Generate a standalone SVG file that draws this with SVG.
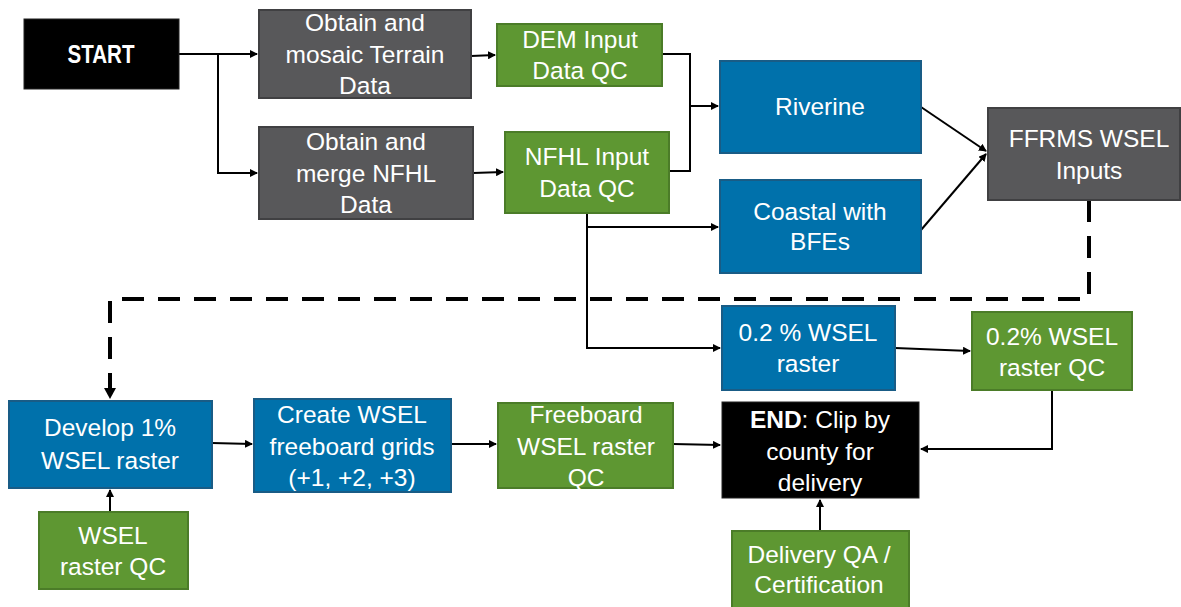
<svg xmlns="http://www.w3.org/2000/svg" width="1181" height="607" viewBox="0 0 1181 607">
<defs>
<marker id="ah" markerWidth="8" markerHeight="8" refX="7" refY="4" orient="auto" markerUnits="userSpaceOnUse">
<path d="M0,0 L8,4 L0,8 z" fill="#000"/>
</marker>
<marker id="ahb" markerWidth="12" markerHeight="12" refX="10" refY="6" orient="auto" markerUnits="userSpaceOnUse">
<path d="M0,0 L11,6 L0,12 z" fill="#000"/>
</marker>
<style>
.gray{fill:#58585a;stroke:#404042;stroke-width:2}
.green{fill:#5e9732;stroke:#4b7c28;stroke-width:2}
.blue{fill:#0071ab;stroke:#195c86;stroke-width:2}
.black{fill:#000;stroke:#222;stroke-width:1}
text{font-family:"Liberation Sans",Arial,sans-serif;font-size:24.5px;fill:#fff;text-anchor:middle}
.c{fill:none;stroke:#000;stroke-width:2}
.d{fill:none;stroke:#000;stroke-width:4;stroke-dasharray:22,14}
</style>
</defs>

<g id="connectors">
<path class="c" d="M179,54 H257" marker-end="url(#ah)"/>
<path class="c" d="M218,54 V173 H257" marker-end="url(#ah)"/>
<path class="c" d="M471,56 L495,55" marker-end="url(#ah)"/>
<path class="c" d="M473,173 L503,172" marker-end="url(#ah)"/>
<path class="c" d="M662,54 H690 V106 H718" marker-end="url(#ah)"/>
<path class="c" d="M669,171 H690 V106"/>
<path class="c" d="M587,213 V348 H720" marker-end="url(#ah)"/>
<path class="c" d="M587,227 H718" marker-end="url(#ah)"/>
<path class="c" d="M921,107 L986,151" marker-end="url(#ah)"/>
<path class="c" d="M921,230 L986,154" marker-end="url(#ah)"/>
<path class="c" d="M895,348 L970,351" marker-end="url(#ah)"/>
<path class="c" d="M1052,390 V449 H921" marker-end="url(#ah)"/>
<path class="c" d="M212,443 L252,444" marker-end="url(#ah)"/>
<path class="c" d="M451,444 L496,444" marker-end="url(#ah)"/>
<path class="c" d="M673,444 L720,445" marker-end="url(#ah)"/>
<path class="c" d="M110,512 V490" marker-end="url(#ah)"/>
<path class="c" d="M820,531 V500" marker-end="url(#ah)"/>
<path class="d" d="M1089,200 V299 H110 V398" marker-end="url(#ahb)"/>
</g>

<g id="start"><rect class="black" x="24" y="19" width="155" height="70"/>
<text x="101" y="63" style="font-weight:bold;font-size:25px" textLength="67" lengthAdjust="spacingAndGlyphs">START</text></g>

<g id="terrain"><rect class="gray" x="259" y="10" width="212" height="88"/>
<text x="365" y="31">Obtain and</text><text x="365" y="63">mosaic Terrain</text><text x="365" y="94">Data</text></g>

<g id="nfhl-merge"><rect class="gray" x="259" y="127" width="214" height="92"/>
<text x="366" y="150">Obtain and</text><text x="366" y="182">merge NFHL</text><text x="366" y="213">Data</text></g>

<g id="dem-qc"><rect class="green" x="497" y="24" width="165" height="62"/>
<text x="580" y="48">DEM Input</text><text x="580" y="79">Data QC</text></g>

<g id="nfhl-qc"><rect class="green" x="505" y="132" width="164" height="81"/>
<text x="587" y="165">NFHL Input</text><text x="587" y="197">Data QC</text></g>

<g id="riverine"><rect class="blue" x="720" y="61" width="201" height="92"/>
<text x="820" y="115">Riverine</text></g>

<g id="coastal"><rect class="blue" x="720" y="180" width="201" height="93"/>
<text x="820" y="220">Coastal with</text><text x="820" y="250">BFEs</text></g>

<g id="ffrms"><rect class="gray" x="988" y="108" width="192" height="92"/>
<text x="1089" y="147">FFRMS WSEL</text><text x="1089" y="179">Inputs</text></g>

<g id="wsel02"><rect class="blue" x="722" y="306" width="173" height="84"/>
<text x="808" y="341">0.2 % WSEL</text><text x="808" y="372">raster</text></g>

<g id="wsel02-qc"><rect class="green" x="972" y="312" width="160" height="78"/>
<text x="1052" y="345">0.2% WSEL</text><text x="1052" y="376">raster QC</text></g>

<g id="develop"><rect class="blue" x="9" y="401" width="203" height="87"/>
<text x="110" y="436">Develop 1%</text><text x="110" y="469">WSEL raster</text></g>

<g id="create"><rect class="blue" x="254" y="399" width="197" height="93"/>
<text x="352" y="423">Create WSEL</text><text x="352" y="455">freeboard grids</text><text x="352" y="486">(+1, +2, +3)</text></g>

<g id="wsel-qc"><rect class="green" x="39" y="512" width="149" height="77"/>
<text x="113" y="544">WSEL</text><text x="113" y="575">raster QC</text></g>

<g id="freeboard"><rect class="green" x="498" y="403" width="175" height="85"/>
<text x="586" y="423">Freeboard</text><text x="586" y="455">WSEL raster</text><text x="586" y="486">QC</text></g>

<g id="end"><rect class="black" x="722" y="402" width="197" height="96"/>
<text x="820" y="428"><tspan font-weight="bold">END</tspan>: Clip by</text><text x="820" y="460">county for</text><text x="820" y="491">delivery</text></g>

<g id="delivery"><rect class="green" x="732" y="531" width="177" height="78"/>
<text x="819" y="563">Delivery QA /</text><text x="819" y="593">Certification</text></g>
</svg>
